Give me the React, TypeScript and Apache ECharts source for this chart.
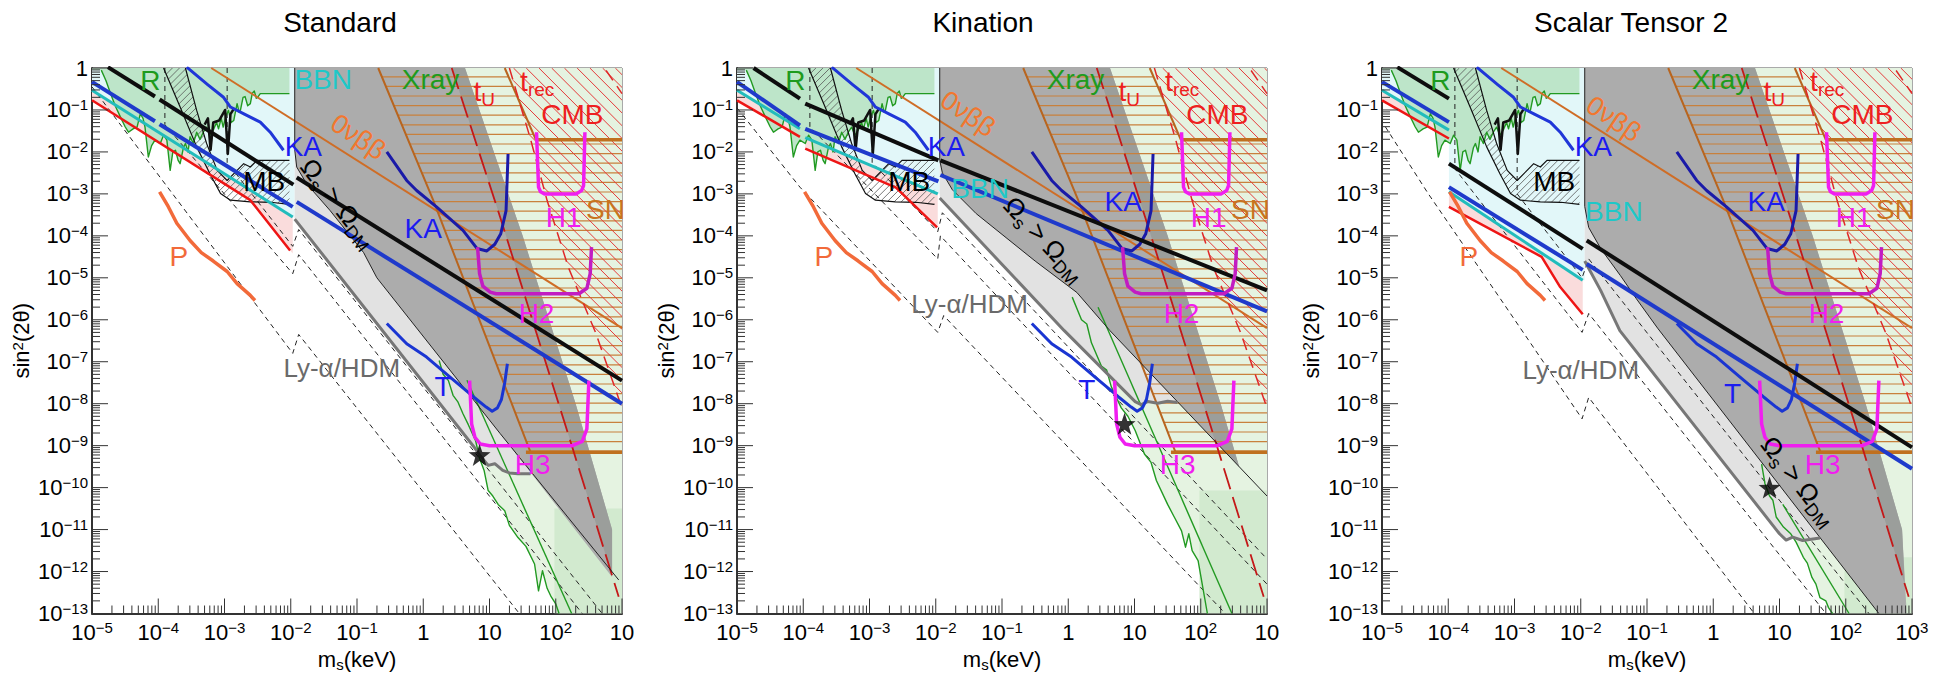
import React, { useEffect, useRef } from "react";
import * as echarts from "echarts";

type Pt = [number, number]; // [log10(m_s / keV), log10(sin^2 2θ)]

// ---------------- axes ----------------
const X_MIN = -5, X_MAX = 3, Y_MIN = -13, Y_MAX = 0;
const xDecades = [-5, -4, -3, -2, -1, 0, 1, 2, 3];
const yDecades = [-13, -12, -11, -10, -9, -8, -7, -6, -5, -4, -3, -2, -1, 0];
const minorFactors = [2, 3, 4, 5, 6, 7, 8, 9];
const panelTitles = ["Standard", "Kination", "Scalar Tensor 2"];

// ---------------- shared curves (identical in the three panels) ----------------
const xrayEdge: Pt[] = [[-0.68, 0], [0.15, -3.15], [0.78, -5.73], [1.62, -9.16]];
const tRecEdge: Pt[] = [[1.23, 0], [1.7, -1.71]];
const snTop: Pt[] = [[1.7, -1.71], [3, -1.71]];
const snBottom: Pt[] = [[1.55, -9.16], [3, -9.16]];
const brownHatchArea: Pt[] = [...xrayEdge, [3, -9.16], [3, -1.71], [1.7, -1.71], [1.23, 0]];
const cmbEdge: Pt[] = [[1.3, 0], [1.62, -1.7], [1.87, -3.16], [2.19, -4.75], [2.6, -6.3], [3, -8.1]];
const cmbArea: Pt[] = [...cmbEdge, [3, 0]];
const cmbCorner: Pt[] = [[2.76, -0.06], [3, -0.61]];
const tULine: Pt[] = [[0.43, 0], [1.16, -3.55], [2.25, -9.04], [2.95, -12.6]];
const ovbbLine: Pt[] = [[-3.2, 0], [3, -6.2]];
const kaLeft: Pt[] = [[-3.57, 0.02], [-3.25, -0.4], [-3.02, -0.69], [-2.91, -0.93], [-2.7, -1.1], [-2.46, -1.29], [-2.31, -1.53], [-2.11, -1.96]];
const kaRight: Pt[] = [[-0.55, -2.0], [-0.25, -2.68], [-0.1, -2.92], [0.2, -3.31], [0.6, -3.87], [0.81, -4.3], [0.96, -4.36], [1.08, -4.2], [1.17, -3.95], [1.25, -3.4], [1.28, -2.05]];
const tCurve: Pt[] = [[-0.55, -6.09], [-0.25, -6.57], [0.05, -6.89], [0.4, -7.36], [0.76, -7.84], [0.95, -8.08], [1.04, -8.18], [1.12, -8.1], [1.18, -7.9], [1.23, -7.5], [1.27, -7.05]];
const h1Curve: Pt[] = [[1.71, -1.53], [1.74, -2.84], [1.77, -2.95], [1.83, -3.0], [2.31, -3.0], [2.39, -2.92], [2.42, -2.8], [2.44, -1.53]];
const h2Curve: Pt[] = [[0.82, -4.27], [0.85, -4.9], [0.9, -5.2], [1.01, -5.34], [1.1, -5.38], [2.35, -5.38], [2.47, -5.25], [2.52, -4.9], [2.54, -4.27]];
const h3Curve: Pt[] = [[0.7, -7.45], [0.73, -8.48], [0.78, -8.8], [0.86, -8.96], [1.0, -9.0], [2.25, -9.0], [2.4, -8.9], [2.47, -8.6], [2.5, -7.45]];
const pCurve: Pt[] = [[-3.98, -2.95], [-3.85, -3.3], [-3.72, -3.7], [-3.52, -4.11], [-3.35, -4.4], [-3.17, -4.6], [-2.96, -4.85], [-2.81, -5.14], [-2.61, -5.42], [-2.54, -5.54]];
const rWiggle: Pt[] = [[-4.86, -0.05], [-4.79, -0.3], [-4.72, -0.61], [-4.65, -0.9], [-4.57, -1.17], [-4.5, -1.4], [-4.45, -1.53], [-4.38, -1.45], [-4.32, -1.41], [-4.27, -1.09], [-4.23, -1.2], [-4.2, -1.41], [-4.15, -2.12], [-4.1, -1.85], [-4.05, -1.72], [-3.97, -1.8], [-3.92, -1.6], [-3.87, -1.72], [-3.82, -2.44], [-3.78, -2.0], [-3.74, -1.96], [-3.7, -2.2], [-3.67, -2.28], [-3.62, -1.9], [-3.59, -1.8], [-3.55, -2.0], [-3.52, -1.64], [-3.47, -1.8], [-3.42, -1.53], [-3.37, -1.7], [-3.32, -1.53], [-3.27, -1.41], [-3.22, -1.6], [-3.17, -1.48], [-3.12, -1.3], [-3.09, -1.45], [-3.05, -1.2], [-3.02, -1.41], [-2.98, -1.15], [-2.94, -1.01], [-2.9, -1.3], [-2.86, -1.25], [-2.81, -0.85], [-2.78, -1.05], [-2.76, -1.01], [-2.72, -0.7], [-2.69, -0.68], [-2.65, -0.9], [-2.61, -0.85], [-2.58, -0.6], [-2.55, -0.55], [-2.52, -0.72], [-2.5, -0.7], [-2.46, -0.61], [-2.02, -0.61]];
const mbLeft: Pt[] = [[-3.92, 0], [-3.67, -0.93], [-3.42, -1.88], [-3.22, -2.52], [-3.06, -2.99], [-2.91, -3.15], [-2.61, -3.19], [-2.3, -3.2], [-2.02, -3.25]];
const mbTop: Pt[] = [[-3.59, 0], [-3.42, -1.01], [-3.27, -1.8], [-3.11, -2.44], [-2.96, -2.68], [-2.81, -2.44], [-2.71, -2.28], [-2.61, -2.36], [-2.51, -2.2], [-2.02, -2.2]];
const mbSpikes: Pt[] = [[-3.3, -1.35], [-3.25, -1.2], [-3.21, -1.95], [-3.17, -1.3], [-3.08, -1.25], [-2.99, -1.0], [-2.95, -2.05], [-2.91, -1.1], [-2.85, -0.95]];

// ---------------- Standard ----------------
const stdBlack: Pt[][] = [[[-4.76, 0.02], [-4.05, -0.68]], [[-3.98, -0.75], [-1.96, -2.78]], [[-1.91, -2.61], [3, -7.45]]];
const stdBlue: Pt[][] = [[[-5, -0.33], [-4.05, -1.27]], [[-3.98, -1.34], [-1.97, -3.31]], [[-1.91, -3.19], [3, -8.0]]];
const stdCyan: Pt[][] = [[[-5, -0.53], [-1.97, -3.55]]];
const stdRed: Pt[][] = [[[-5, -0.77], [-2.61, -3.15], [-2.01, -4.35]]];
const stdPink: Pt[][] = [[[-5, -0.53], [-1.97, -3.55], [-1.97, -4.42], [-2.01, -4.35], [-2.61, -3.15], [-5, -0.77]]];
const stdPaleCyan: Pt[] = [[-5, 0], [-1.94, 0], [-1.94, -3.58], [-1.97, -3.55], [-5, -0.53]];
const stdDashed: Pt[][] = [
  [[-5, -0.45], [-1.97, -6.8], [-1.88, -6.35], [1.45, -13]],
  [[-3.9, 0], [-3.9, -1.35], [-1.97, -4.9], [-1.88, -4.45], [2.4, -13]],
  [[-2.96, 0], [-2.96, -2.25], [-1.97, -4.25], [-1.88, -3.85], [2.7, -13]],
];
const stdOmegaEdge: Pt[] = [[-1.94, 0], [-1.94, -1.95], [-1.91, -2.36], [-1.76, -2.76], [-1.41, -3.39], [-0.9, -4.4], [-0.7, -5.0], [1.16, -8.71], [2.95, -12.2]];
const stdOmegaArea: Pt[] = [[-1.94, 0], [0.63, 0], [1.5, -4.0], [2.3, -8.0], [2.85, -11.0], [2.85, -12.13], [1.16, -8.71], [-0.7, -5.0], [-0.9, -4.4], [-1.41, -3.39], [-1.76, -2.76], [-1.91, -2.36], [-1.94, -1.95]];
const stdStrip: Pt[] = [[0.43, 0], [0.63, 0], [1.5, -4.0], [2.3, -8.0], [2.85, -11.0], [2.85, -12.1], [2.25, -9.04], [1.16, -3.55]];
const stdLyaEdge: Pt[] = [[-1.94, -3.6], [0.76, -9.02], [0.85, -9.22], [0.98, -9.47], [1.08, -9.43], [1.2, -9.59], [1.3, -9.65], [1.43, -9.67], [1.62, -9.67]];
const stdLyaArea: Pt[] = [...stdLyaEdge, [1.62, -9.6], [1.16, -8.71], [-0.7, -5.0], [-0.9, -4.4], [-1.41, -3.39], [-1.76, -2.76], [-1.91, -2.36], [-1.94, -1.95]];
const stdGreenWiggle: Pt[] = [[0.24, -6.97], [0.3, -7.3], [0.38, -7.45], [0.45, -7.8], [0.52, -7.95], [0.6, -8.24], [0.68, -8.5], [0.79, -8.88], [0.85, -9.3], [0.92, -9.6], [0.98, -10.07], [1.05, -10.2], [1.13, -10.4], [1.23, -10.55], [1.3, -10.9], [1.43, -11.19], [1.55, -11.4], [1.68, -11.82], [1.74, -12.46], [1.8, -11.98], [1.87, -12.4], [1.93, -12.6], [2.0, -12.77], [2.05, -13]];
const stdGreenStraight: Pt[] = [[0.66, -7.44], [2.24, -13]];
const stdGreenBlock: Pt[] = [[1.98, -10.5], [3, -10.5], [3, -13], [1.98, -13]];
const stdStar: Pt = [0.85, -9.22];

// ---------------- Kination ----------------
const kinBlack: Pt[][] = [[[-4.75, 0], [-4.05, -0.73]], [[-3.97, -0.85], [-1.96, -2.2]], [[-1.93, -2.2], [3, -5.3]]];
const kinBlue: Pt[][] = [[[-5, -0.33], [-4.05, -1.37]], [[-3.97, -1.45], [-1.96, -2.7]], [[-1.93, -2.55], [3, -5.8]]];
const kinCyan: Pt[][] = [[[-5, -0.53], [-4.05, -1.45]], [[-3.97, -1.66], [-1.97, -3.0]]];
const kinRed: Pt[][] = [[[-5, -0.77], [-4.05, -1.64]], [[-3.97, -1.92], [-2.6, -2.85], [-1.98, -3.8]]];
const kinPink: Pt[][] = [
  [[-5, -0.53], [-4.05, -1.45], [-4.05, -1.64], [-5, -0.77]],
  [[-3.97, -1.66], [-1.97, -3.0], [-1.97, -3.8], [-2.6, -2.85], [-3.97, -1.92]],
];
const kinPaleCyan: Pt[] = [[-5, 0], [-1.94, 0], [-1.94, -3.0], [-1.97, -3.0], [-3.97, -1.66], [-4.05, -1.45], [-5, -0.53]];
const kinDashed: Pt[][] = [
  [[-5, -0.95], [-4.05, -2.84], [-1.97, -6.3], [-1.88, -5.9], [2.37, -13]],
  [[-3.9, 0], [-3.9, -1.4], [-1.97, -4.55], [-1.93, -4.0], [3, -12.3]],
  [[-2.96, 0], [-2.96, -2.25], [-1.97, -3.9], [-1.9, -3.45], [3, -11.7]],
];
const kinOmegaEdge: Pt[] = [[-1.94, 0], [-1.94, -2.2], [-1.9, -2.5], [-1.75, -2.9], [-1.39, -3.47], [-0.5, -4.6], [0.13, -5.35], [0.63, -6.26], [3, -10.2]];
const kinOmegaArea: Pt[] = [[-1.94, 0], [0.63, 0], [1.5, -4.0], [2.3, -8.0], [2.58, -9.5], [0.63, -6.26], [0.13, -5.35], [-0.5, -4.6], [-1.39, -3.47], [-1.75, -2.9], [-1.9, -2.5], [-1.94, -2.2]];
const kinStrip: Pt[] = [[0.43, 0], [0.63, 0], [1.5, -4.0], [2.3, -8.0], [2.58, -9.5], [2.21, -8.87], [1.16, -3.55]];
const kinLyaEdge: Pt[] = [[-1.94, -3.1], [-0.06, -6.26], [1.01, -7.95], [1.1, -8.02], [1.2, -7.95], [1.35, -7.99], [1.5, -7.94], [1.65, -7.97]];
const kinLyaArea: Pt[] = [...kinLyaEdge, [1.65, -7.95], [0.63, -6.26], [0.13, -5.35], [-0.5, -4.6], [-1.39, -3.47], [-1.75, -2.9], [-1.9, -2.5], [-1.94, -2.2]];
const kinGreenWiggle: Pt[] = [[0.06, -5.46], [0.2, -6.0], [0.28, -6.1], [0.35, -6.55], [0.5, -7.1], [0.58, -7.2], [0.65, -7.6], [0.8, -8.1], [0.9, -8.3], [1.01, -8.64], [1.15, -9.2], [1.25, -9.4], [1.33, -9.83], [1.5, -10.4], [1.6, -10.7], [1.71, -11.03], [1.77, -11.42], [1.82, -11.1], [1.87, -11.5], [1.96, -11.74], [2.1, -13]];
const kinGreenStraight: Pt[] = [[0.45, -5.7], [2.47, -13]];
const kinGreenBlock: Pt[] = [[1.98, -10.07], [3, -10.07], [3, -13], [1.98, -13]];
const kinStar: Pt = [0.85, -8.48];

// ---------------- Scalar Tensor 2 ----------------
const stBlack: Pt[][] = [[[-4.77, 0.02], [-3.99, -0.73]], [[-3.99, -2.28], [-1.97, -4.31]], [[-1.91, -4.11], [3, -9.04]]];
const stBlue: Pt[][] = [[[-5, -0.33], [-3.99, -1.29]], [[-3.99, -2.84], [-1.97, -4.81]], [[-1.91, -4.67], [3, -9.55]]];
const stCyan: Pt[][] = [[[-5, -0.53], [-3.99, -1.48]], [[-3.99, -2.95], [-1.97, -5.06]]];
const stRed: Pt[][] = [[[-5, -0.77], [-3.99, -1.68]], [[-3.99, -3.31], [-2.59, -4.5], [-2.31, -5.22], [-1.97, -5.87]]];
const stPink: Pt[][] = [
  [[-5, -0.53], [-3.99, -1.48], [-3.99, -1.68], [-5, -0.77]],
  [[-3.99, -2.95], [-1.97, -5.06], [-1.97, -5.87], [-2.31, -5.22], [-2.59, -4.5], [-3.99, -3.31]],
];
const stPaleCyan: Pt[] = [[-5, 0], [-1.94, 0], [-1.94, -5.06], [-1.97, -5.06], [-3.99, -2.95], [-3.99, -1.48], [-5, -0.53]];
const stDashed: Pt[][] = [
  [[-4.95, -1.4], [-4.3, -3.0], [-3.17, -5.6], [-1.98, -8.36], [-1.88, -7.85], [0.62, -13]],
  [[-3.9, 0], [-3.9, -2.4], [-1.98, -6.3], [-1.88, -5.85], [1.7, -13]],
  [[-2.96, 0], [-2.96, -3.0], [-1.98, -5.0], [-1.88, -4.55], [2.35, -13]],
];
const stOmegaEdge: Pt[] = [[-1.94, 0], [-1.94, -3.3], [-1.88, -3.8], [-1.7, -4.3], [-1.4, -4.95], [-1.16, -5.5], [-0.84, -6.2], [2.5, -13]];
const stOmegaArea: Pt[] = [[-1.94, 0], [0.63, 0], [1.5, -4.0], [2.3, -8.0], [2.85, -11.0], [2.92, -13], [2.5, -13], [-0.84, -6.2], [-1.16, -5.5], [-1.4, -4.95], [-1.7, -4.3], [-1.88, -3.8], [-1.94, -3.3]];
const stStrip: Pt[] = [[0.43, 0], [0.63, 0], [1.5, -4.0], [2.3, -8.0], [2.85, -11.0], [2.89, -12.3], [2.25, -9.04], [1.16, -3.55]];
const stLyaEdge: Pt[] = [[-1.94, -4.6], [-1.7, -5.3], [-1.41, -6.26], [0.95, -11.0], [1.0, -11.1], [1.1, -11.25], [1.2, -11.18], [1.35, -11.26], [1.61, -11.2]];
const stLyaArea: Pt[] = [...stLyaEdge, [1.61, -11.17], [-0.84, -6.2], [-1.16, -5.5], [-1.4, -4.95], [-1.7, -4.3], [-1.88, -3.8], [-1.94, -3.3]];
const stGreenWiggle: Pt[] = [[0.73, -9.44], [0.78, -9.9], [0.85, -10.2], [0.9, -10.3], [0.95, -10.7], [1.06, -10.94], [1.17, -11.1], [1.25, -11.3], [1.36, -11.66], [1.42, -11.8], [1.49, -12.14], [1.55, -12.3], [1.61, -12.62], [1.7, -12.7], [1.74, -12.86], [1.8, -13]];
const stGreenStraight: Pt[] = [[1.05, -10.4], [2.05, -13]];
const stGreenBlock: Pt[] = [[1.98, -11.66], [3, -11.66], [3, -13], [1.98, -13]];
const stStar: Pt = [0.85, -10.0];

// ---------------- labels (anchor in data units) ----------------
type Lbl = { t: string; at: Pt; c: string; rot?: number; size?: number };
const COL = {
  green: "#1e9b1e", cyan: "#1ec8c8", red: "#ee2020", orange: "#f2772e", blue: "#1c1cf0",
  black: "#000000", magenta: "#f01ef0", brown: "#c8741e", coral: "#f26a3a", gray: "#6a6a6a",
};
const commonLabels: Lbl[] = [
  { t: "{m|R}", at: [-4.12, -0.35], c: COL.green },
  { t: "{m|Xray}", at: [0.11, -0.33], c: COL.green },
  { t: "{m|t}{s|U}", at: [0.92, -0.6], c: COL.red },
  { t: "{m|t}{s|rec}", at: [1.72, -0.36], c: COL.red },
  { t: "{m|CMB}", at: [2.25, -1.16], c: COL.red },
  { t: "{m|MB}", at: [-2.4, -2.75], c: COL.black },
  { t: "{m|H1}", at: [2.12, -3.6], c: COL.magenta },
  { t: "{m|SN}", at: [2.75, -3.43], c: COL.brown },
  { t: "{m|H2}", at: [1.71, -5.9], c: COL.magenta },
  { t: "{m|H3}", at: [1.65, -9.5], c: COL.magenta },
  { t: "{m|P}", at: [-3.69, -4.55], c: COL.coral },
];
const stdLabels: Lbl[] = [
  { t: "{m|BBN}", at: [-1.51, -0.33], c: COL.cyan },
  { t: "{m|0νββ}", at: [-1.0, -1.68], c: COL.orange, rot: -34, size: 27 },
  { t: "{m|KA}", at: [-1.81, -1.92], c: COL.blue },
  { t: "{m|KA}", at: [0.0, -3.87], c: COL.blue },
  { t: "{m|T}", at: [0.3, -7.64], c: COL.blue },
  { t: "{m|Ly-α/HDM}", at: [-1.23, -7.2], c: COL.gray, size: 26 },
  { t: "{m|Ω}{s|s}{m| > Ω}{s|DM}", at: [-1.3, -3.25], c: COL.black, rot: -52, size: 26 },
];
const kinLabels: Lbl[] = [
  { t: "{m|BBN}", at: [-1.33, -2.92], c: COL.cyan },
  { t: "{m|0νββ}", at: [-1.53, -1.13], c: COL.orange, rot: -34, size: 27 },
  { t: "{m|KA}", at: [-1.84, -1.92], c: COL.blue },
  { t: "{m|KA}", at: [0.83, -3.24], c: COL.blue },
  { t: "{m|T}", at: [0.28, -7.7], c: COL.blue },
  { t: "{m|Ly-α/HDM}", at: [-1.49, -5.66], c: COL.gray, size: 26 },
  { t: "{m|Ω}{s|s}{m| > Ω}{s|DM}", at: [-0.38, -4.11], c: COL.black, rot: -47, size: 26 },
];
const stLabels: Lbl[] = [
  { t: "{m|BBN}", at: [-1.5, -3.47], c: COL.cyan },
  { t: "{m|0νββ}", at: [-1.52, -1.25], c: COL.orange, rot: -34, size: 27 },
  { t: "{m|KA}", at: [-1.81, -1.92], c: COL.blue },
  { t: "{m|KA}", at: [0.8, -3.24], c: COL.blue },
  { t: "{m|T}", at: [0.29, -7.81], c: COL.blue },
  { t: "{m|Ly-α/HDM}", at: [-2.0, -7.25], c: COL.gray, size: 26 },
  { t: "{m|Ω}{s|s}{m| > Ω}{s|DM}", at: [1.27, -9.87], c: COL.black, rot: -52, size: 26 },
];

// ---------------- layout / style ----------------
const FONT = "'Liberation Sans', Arial, Helvetica, sans-serif";
const GRID_LEFT = [92, 737, 1382];
const GRID_TOP = 68;
const GRID_W = 530;
const GRID_H = 545.5;
const TITLE_X = [340, 983, 1631];
const LABEL_SIZE = 28;

const rev = (a: Pt[]) => a.slice().reverse();

function hatchSegs(poly: number[][], ang: number, gap: number): number[][][] {
  const c = Math.cos(ang), s = Math.sin(ang);
  const r = poly.map(([x, y]) => [x * c + y * s, -x * s + y * c]);
  let lo = Infinity, hi = -Infinity;
  for (const p of r) { lo = Math.min(lo, p[1]); hi = Math.max(hi, p[1]); }
  const out: number[][][] = [];
  for (let v = Math.ceil(lo / gap) * gap; v <= hi; v += gap) {
    const xs: number[] = [];
    for (let i = 0; i < r.length; i++) {
      const a = r[i], b = r[(i + 1) % r.length];
      if ((a[1] <= v) !== (b[1] <= v)) xs.push(a[0] + ((v - a[1]) * (b[0] - a[0])) / (b[1] - a[1]));
    }
    xs.sort((m, n) => m - n);
    for (let k = 0; k + 1 < xs.length; k += 2) {
      out.push([[xs[k] * c - v * s, xs[k] * s + v * c], [xs[k + 1] * c - v * s, xs[k + 1] * s + v * c]]);
    }
  }
  return out;
}

const axIdx = (gi: number) => ({ xAxisIndex: gi, yAxisIndex: gi });

function lineS(gi: number, data: Pt[], color: string, width: number, z: number, dash?: any): any {
  return {
    type: "line", ...axIdx(gi), data, z, silent: true, symbol: "none", showSymbol: false, animation: false,
    lineStyle: { color, width, type: dash || "solid", cap: "butt", join: "round" },
  };
}
function polyS(gi: number, pts: Pt[], fill: string, z: number): any {
  return {
    type: "custom", ...axIdx(gi), z, silent: true, clip: true, animation: false, data: [pts[0]],
    renderItem: (_p: any, api: any) => ({
      type: "polygon", shape: { points: pts.map((p) => api.coord(p)) }, style: { fill },
    }),
  };
}
function hatchS(gi: number, pts: Pt[], color: string, width: number, angDeg: number, gap: number, z: number): any {
  return {
    type: "custom", ...axIdx(gi), z, silent: true, clip: true, animation: false, data: [pts[0]],
    renderItem: (_p: any, api: any) => {
      const px = pts.map((p) => api.coord(p));
      const segs = hatchSegs(px, (angDeg * Math.PI) / 180, gap);
      return {
        type: "group",
        children: segs.map((sg) => ({
          type: "line", shape: { x1: sg[0][0], y1: sg[0][1], x2: sg[1][0], y2: sg[1][1] },
          style: { stroke: color, lineWidth: width },
        })),
      };
    },
  };
}
function labelsS(gi: number, labels: Lbl[], z: number): any {
  return {
    type: "custom", ...axIdx(gi), z, silent: true, clip: false, animation: false,
    data: labels.map((l) => l.at),
    renderItem: (p: any, api: any) => {
      const l = labels[p.dataIndex];
      const c = api.coord(l.at);
      const size = l.size || LABEL_SIZE;
      return {
        type: "text", x: c[0], y: c[1], rotation: ((l.rot || 0) * Math.PI) / 180,
        style: {
          text: l.t, fill: l.c, fontSize: size, fontFamily: FONT,
          align: "center", verticalAlign: "middle", textAlign: "center", textVerticalAlign: "middle",
          rich: {
            m: { fontSize: size, fontFamily: FONT, fill: l.c, lineHeight: size + 4, verticalAlign: "top" },
            s: { fontSize: Math.round(size * 0.68), fontFamily: FONT, fill: l.c, lineHeight: size + 4, verticalAlign: "bottom" },
          },
        },
      };
    },
  };
}
function ticksS(gi: number): any {
  return {
    type: "custom", ...axIdx(gi), z: 25, silent: true, clip: false, animation: false, data: [[-1, -6]],
    renderItem: (_p: any, api: any) => {
      const ch: any[] = [];
      const add = (x1: number, y1: number, x2: number, y2: number) =>
        ch.push({ type: "line", shape: { x1, y1, x2, y2 }, style: { stroke: "#333", lineWidth: 1 } });
      for (const d of xDecades) {
        const c = api.coord([d, Y_MIN]);
        add(c[0], c[1], c[0], c[1] - 15);
      }
      for (let d = X_MIN; d < X_MAX; d++) {
        for (const k of minorFactors) {
          const c = api.coord([d + Math.log10(k), Y_MIN]);
          add(c[0], c[1], c[0], c[1] - 8);
        }
      }
      for (const d of yDecades) {
        const c = api.coord([X_MIN, d]);
        add(c[0], c[1], c[0] + 16, c[1]);
      }
      for (let d = Y_MIN; d < Y_MAX; d++) {
        for (const k of minorFactors) {
          const c = api.coord([X_MIN, d + Math.log10(k)]);
          add(c[0], c[1], c[0] + 8, c[1]);
        }
      }
      return { type: "group", children: ch };
    },
  };
}

type PanelData = {
  black: Pt[][]; blue: Pt[][]; cyan: Pt[][]; red: Pt[][]; pink: Pt[][]; paleCyan: Pt[];
  dashed: Pt[][]; omegaEdge: Pt[]; omegaArea: Pt[]; strip: Pt[]; lyaEdge: Pt[]; lyaArea: Pt[];
  greenWiggle: Pt[]; greenStraight: Pt[]; greenBlock: Pt[]; star: Pt; labels: Lbl[];
};

const panels: PanelData[] = [
  { black: stdBlack, blue: stdBlue, cyan: stdCyan, red: stdRed, pink: stdPink, paleCyan: stdPaleCyan, dashed: stdDashed, omegaEdge: stdOmegaEdge, omegaArea: stdOmegaArea, strip: stdStrip, lyaEdge: stdLyaEdge, lyaArea: stdLyaArea, greenWiggle: stdGreenWiggle, greenStraight: stdGreenStraight, greenBlock: stdGreenBlock, star: stdStar, labels: stdLabels },
  { black: kinBlack, blue: kinBlue, cyan: kinCyan, red: kinRed, pink: kinPink, paleCyan: kinPaleCyan, dashed: kinDashed, omegaEdge: kinOmegaEdge, omegaArea: kinOmegaArea, strip: kinStrip, lyaEdge: kinLyaEdge, lyaArea: kinLyaArea, greenWiggle: kinGreenWiggle, greenStraight: kinGreenStraight, greenBlock: kinGreenBlock, star: kinStar, labels: kinLabels },
  { black: stBlack, blue: stBlue, cyan: stCyan, red: stRed, pink: stPink, paleCyan: stPaleCyan, dashed: stDashed, omegaEdge: stOmegaEdge, omegaArea: stOmegaArea, strip: stStrip, lyaEdge: stLyaEdge, lyaArea: stLyaArea, greenWiggle: stGreenWiggle, greenStraight: stGreenStraight, greenBlock: stGreenBlock, star: stStar, labels: stLabels },
];

const STAR = "path://M0,-10L2.35,-3.24L9.51,-3.09L3.8,1.24L5.88,8.09L0,4L-5.88,8.09L-3.8,1.24L-9.51,-3.09L-2.35,-3.24Z";

function panelSeries(gi: number, pd: PanelData): any[] {
  const s: any[] = [];
  const greenArea: Pt[] = [[0.43, 0], [3, 0], [3, -13], ...rev(pd.greenWiggle)];
  const rArea: Pt[] = [[-5, 0], [-2.02, 0], ...rev(rWiggle), [-5, -0.05]];
  const mbArea: Pt[] = [...mbLeft, ...rev(mbTop)];
  // fills
  s.push(polyS(gi, greenArea, "#e5f3e1", 1));
  s.push(polyS(gi, pd.greenBlock, "#d2eacf", 2));
  s.push(polyS(gi, pd.paleCyan, "#e2f7f9", 2));
  pd.pink.forEach((p) => s.push(polyS(gi, p, "#fadcdc", 3)));
  s.push(polyS(gi, rArea, "#bde5c9", 4));
  s.push(hatchS(gi, mbArea, "#555", 0.8, -45, 5, 5));
  s.push(polyS(gi, pd.lyaArea, "#e2e2e2", 6));
  s.push(polyS(gi, pd.omegaArea, "#acacac", 7));
  s.push(polyS(gi, pd.strip, "#9b9e9b", 8));
  s.push(hatchS(gi, brownHatchArea, "#c8803c", 1.2, 0, 9.6, 9));
  s.push(hatchS(gi, cmbArea, "#e53a3a", 1, 45, 9, 10));
  // thin lines
  pd.dashed.forEach((d) => s.push(lineS(gi, d, "#222", 1, 11, [5, 4])));
  s.push(lineS(gi, rWiggle, "#229a22", 1.4, 12));
  s.push(lineS(gi, pd.greenWiggle, "#229a22", 1.4, 12));
  s.push(lineS(gi, pd.greenStraight, "#229a22", 1.4, 12));
  s.push(lineS(gi, ovbbLine, "#cf6d26", 2, 12));
  s.push(lineS(gi, xrayEdge, "#b8651f", 2, 12));
  s.push(lineS(gi, tRecEdge, "#b8651f", 2, 12));
  s.push(lineS(gi, snTop, "#c0701f", 3.5, 12));
  s.push(lineS(gi, snBottom, "#c0701f", 3.5, 12));
  s.push(lineS(gi, tULine, "#c41818", 1.8, 12, [22, 8]));
  s.push(lineS(gi, cmbEdge, "#e02828", 1.5, 12, [12, 7]));
  s.push(lineS(gi, cmbCorner, "#e02828", 1.5, 12, [12, 7]));
  s.push(lineS(gi, pd.omegaEdge, "#222", 1, 12));
  s.push(lineS(gi, mbLeft, "#111", 1.2, 12));
  s.push(lineS(gi, mbTop, "#111", 1.2, 12));
  s.push(lineS(gi, mbSpikes, "#111", 2.5, 13));
  s.push(lineS(gi, pd.lyaEdge, "#777", 3, 13));
  // thick lines
  pd.red.forEach((d) => s.push(lineS(gi, d, "#ee1515", 2.5, 14)));
  pd.cyan.forEach((d) => s.push(lineS(gi, d, "#22bcbc", 3, 14)));
  pd.blue.forEach((d) => s.push(lineS(gi, d, "#1f3acb", 4, 15)));
  pd.black.forEach((d) => s.push(lineS(gi, d, "#0d0d0d", 4, 16)));
  s.push(lineS(gi, kaLeft, "#2036d8", 3, 15));
  s.push(lineS(gi, kaRight, "#1a1aa8", 3, 15));
  s.push(lineS(gi, tCurve, "#1a35d2", 3, 15));
  s.push(lineS(gi, pCurve, "#f26a3a", 3.5, 15));
  s.push(lineS(gi, h1Curve, "#f01ef0", 3.5, 16));
  s.push(lineS(gi, h2Curve, "#c21cc2", 3.5, 16));
  s.push(lineS(gi, h3Curve, "#f01ef0", 3.5, 16));
  s.push({
    type: "scatter", ...axIdx(gi), data: [pd.star], symbol: STAR, symbolSize: 22, z: 20, silent: true,
    itemStyle: { color: "#000" }, animation: false,
  });
  s.push(ticksS(gi));
  s.push(labelsS(gi, [...commonLabels, ...pd.labels], 30));
  return s;
}

const expLabel = (v: number) =>
  v === 0 ? "{b|1}" : v === 1 ? "{b|10}" : `{b|10}{e|${v < 0 ? "\u2212" + -v : v}}`;
const axisRich = {
  b: { fontSize: 22, fontFamily: FONT, color: "#000", lineHeight: 26, verticalAlign: "middle" },
  e: { fontSize: 15, fontFamily: FONT, color: "#000", lineHeight: 26, verticalAlign: "top" },
};
const nameRich = {
  m: { fontSize: 22, fontFamily: FONT, color: "#000", lineHeight: 24, verticalAlign: "top" },
  s: { fontSize: 15, fontFamily: FONT, color: "#000", lineHeight: 24, verticalAlign: "bottom" },
  e: { fontSize: 15, fontFamily: FONT, color: "#000", lineHeight: 24, verticalAlign: "top" },
};

export default function App() {
  const ref = useRef<HTMLDivElement>(null);
  useEffect(() => {
    if (!ref.current) return;
    const chart = echarts.init(ref.current, undefined, { renderer: "svg" });
    const grids = GRID_LEFT.map((l) => ({
      left: l, top: GRID_TOP, width: GRID_W, height: GRID_H, show: true,
      borderColor: "#555", borderWidth: 1, backgroundColor: "transparent",
      containLabel: false, outerBoundsMode: "none",
    }));
    const xAxes = GRID_LEFT.map((_, gi) => ({
      type: "value", gridIndex: gi, min: X_MIN, max: X_MAX, interval: 1,
      axisLine: { show: true, onZero: false, lineStyle: { color: "#333", width: 2 } },
      axisTick: { show: false }, splitLine: { show: false },
      axisLabel: {
        margin: 6, showMinLabel: true, showMaxLabel: true, rich: axisRich,
        formatter: (v: number) => (gi < 2 && v === 3 ? "{b|10}" : expLabel(v)),
      },
      name: "{m|m}{s|s}{m|(keV)}", nameLocation: "middle", nameGap: 24,
      nameTextStyle: { rich: nameRich, lineHeight: 24 },
    }));
    const yAxes = GRID_LEFT.map((_, gi) => ({
      type: "value", gridIndex: gi, min: Y_MIN, max: Y_MAX, interval: 1,
      axisLine: { show: true, onZero: false, lineStyle: { color: "#333", width: 2 } },
      axisTick: { show: false }, splitLine: { show: false },
      axisLabel: { margin: 4, showMinLabel: true, showMaxLabel: true, rich: axisRich, formatter: (v: number) => expLabel(v) },
      name: "{m|sin}{e|2}{m|(2θ)}", nameLocation: "middle", nameGap: 48,
      nameTextStyle: { rich: nameRich, lineHeight: 24 },
    }));
    const series: any[] = [];
    panels.forEach((pd, gi) => series.push(...panelSeries(gi, pd)));
    chart.setOption({
      animation: false,
      backgroundColor: "#ffffff",
      grid: grids,
      xAxis: xAxes,
      yAxis: yAxes,
      graphic: panelTitles.map((t, i) => ({
        type: "text", x: TITLE_X[i], y: 22, z: 100,
        style: { text: t, fontSize: 28, fontFamily: FONT, fill: "#000", align: "center", verticalAlign: "middle", textAlign: "center", textVerticalAlign: "middle" },
      })),
      series,
    });
    return () => chart.dispose();
  }, []);
  return <div ref={ref} style={{ position: "absolute", left: 0, top: 0, width: 1944, height: 674, background: "#fff" }} />;
}
